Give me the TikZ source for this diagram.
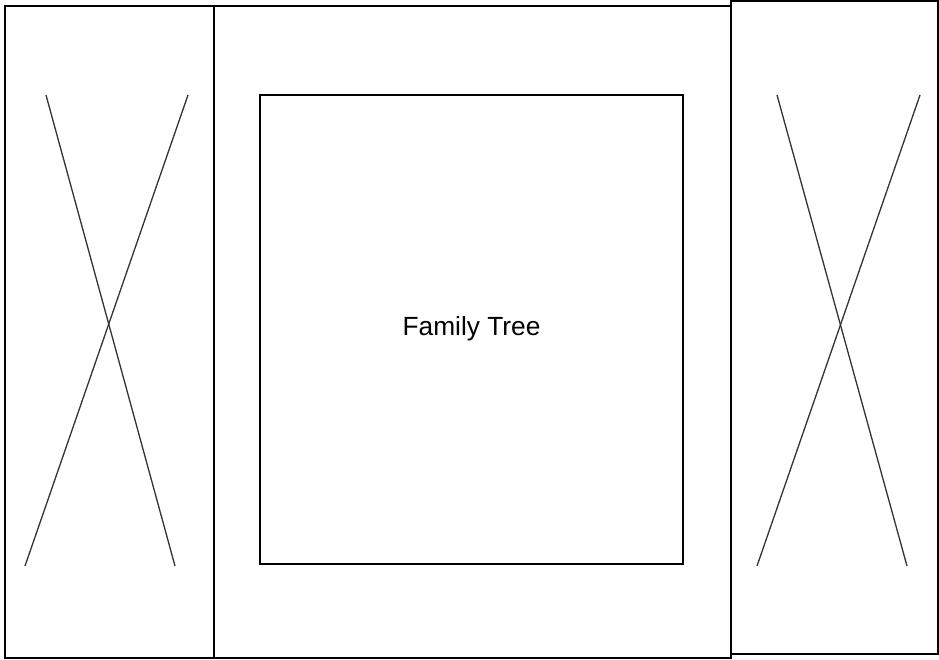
\documentclass[tikz,border=0pt]{standalone}
\usepackage{fontspec}
\setmainfont{Liberation Sans}
\begin{document}
\begin{tikzpicture}[x=1pt,y=-1pt,
  panel/.style={draw=black,line width=1.6pt},
  cross/.style={draw=black!80,line width=1.3pt},
  label/.style={font=\fontsize{26.3}{30}\selectfont}]
\useasboundingbox[fill=white] (0,0) rectangle (939,659);
\draw[panel] (5,6) rectangle (214,658);
\draw[panel] (214,6) rectangle (731,658);
\draw[panel] (731,1) rectangle (938,654);
\draw[panel] (260,95) rectangle (683,564);
\node[label] (title) at (471.5,329) {Family Tree};
\coordinate (l1a) at (46,95); \coordinate (l1b) at (175,566);
\coordinate (l2a) at (188,95); \coordinate (l2b) at (25,566);
\coordinate (r1a) at (777,95); \coordinate (r1b) at (907,566);
\coordinate (r2a) at (920,95); \coordinate (r2b) at (757,566);
\draw[cross] (l1a) -- (l1b);
\draw[cross] (l2a) -- (l2b);
\draw[cross] (r1a) -- (r1b);
\draw[cross] (r2a) -- (r2b);
\end{tikzpicture}
\end{document}
